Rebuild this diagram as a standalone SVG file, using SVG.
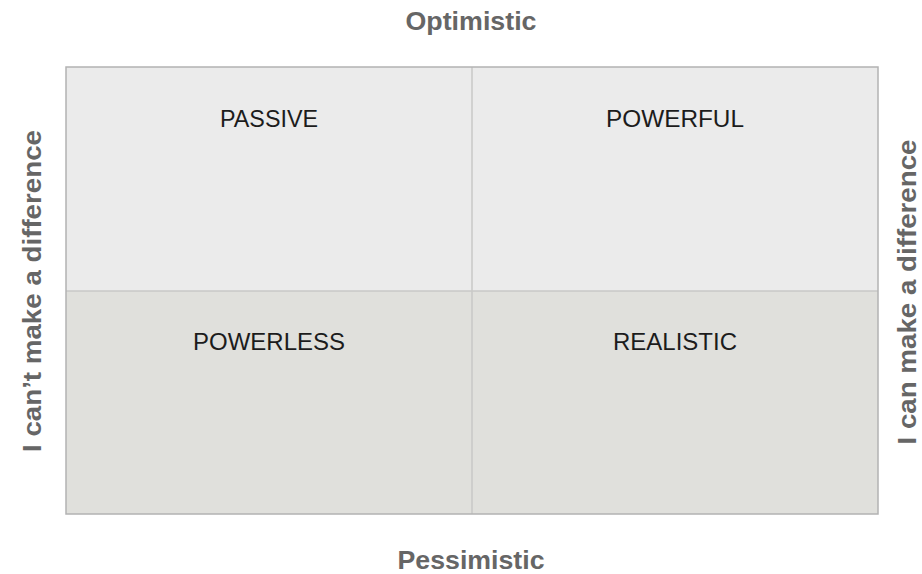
<svg xmlns="http://www.w3.org/2000/svg" width="922" height="574" viewBox="0 0 922 574">
  <style>
    .axis { font-family: "Liberation Sans", Arial, sans-serif; font-weight: bold; font-size: 26px; fill: #666666; text-anchor: middle; }
    .quad { font-family: "Liberation Sans", Arial, sans-serif; font-size: 23.5px; fill: #1c1c1c; text-anchor: middle; }
    .top { fill: #ebebeb; }
    .bottom { fill: #e0e0dc; }
    .divider { stroke: #c9c9c7; stroke-width: 1.5; fill: none; }
    .frame { stroke: #b3b3b3; stroke-width: 1.5; fill: none; }
  </style>
  <rect width="922" height="574" fill="#ffffff"/>

  <!-- quadrants -->
  <g id="passive">
    <rect class="top" x="66" y="67" width="406" height="224"/>
    <text class="quad" x="269" y="127" textLength="98" lengthAdjust="spacingAndGlyphs">PASSIVE</text>
  </g>
  <g id="powerful">
    <rect class="top" x="472" y="67" width="406" height="224"/>
    <text class="quad" x="675" y="127" textLength="138" lengthAdjust="spacingAndGlyphs">POWERFUL</text>
  </g>
  <g id="powerless">
    <rect class="bottom" x="66" y="291" width="406" height="223"/>
    <text class="quad" x="269" y="350" textLength="152" lengthAdjust="spacingAndGlyphs">POWERLESS</text>
  </g>
  <g id="realistic">
    <rect class="bottom" x="472" y="291" width="406" height="223"/>
    <text class="quad" x="675" y="350" textLength="124" lengthAdjust="spacingAndGlyphs">REALISTIC</text>
  </g>

  <!-- grid lines -->
  <g id="grid">
    <line class="divider" x1="472" y1="67" x2="472" y2="514"/>
    <line class="divider" x1="66" y1="291" x2="878" y2="291"/>
    <rect class="frame" x="66" y="67" width="812" height="447"/>
  </g>

  <!-- axis labels -->
  <g id="axes">
    <text class="axis" x="471" y="30" textLength="131" lengthAdjust="spacingAndGlyphs">Optimistic</text>
    <text class="axis" x="471" y="569" textLength="147" lengthAdjust="spacingAndGlyphs">Pessimistic</text>
    <text class="axis" transform="translate(41 291) rotate(-90)" textLength="322" lengthAdjust="spacingAndGlyphs">I can’t make a difference</text>
    <text class="axis" transform="translate(916 292) rotate(-90)" textLength="305" lengthAdjust="spacingAndGlyphs">I can make a difference</text>
  </g>
</svg>
